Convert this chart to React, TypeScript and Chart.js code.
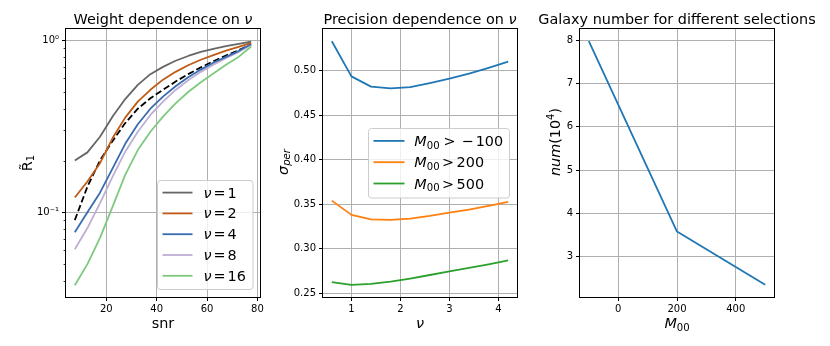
import React, { useEffect, useRef } from 'react';
import { Chart, registerables } from 'chart.js';

Chart.register(...registerables);

// ---------- data ----------
const SNR = [7.5, 12.5, 17.5, 22.5, 27.5, 32.5, 37.5, 42.5, 47.5, 52.5, 57.5, 62.5, 67.5, 72.5, 77.5];
const R_NU1 = [0.2, 0.223, 0.275, 0.36, 0.455, 0.55, 0.635, 0.7, 0.76, 0.81, 0.855, 0.89, 0.925, 0.952, 0.98];
const R_NU2 = [0.122, 0.151, 0.193, 0.27, 0.355, 0.44, 0.515, 0.59, 0.655, 0.715, 0.77, 0.82, 0.87, 0.915, 0.965];
const R_NU4 = [0.0765, 0.1, 0.13, 0.18, 0.25, 0.325, 0.4, 0.47, 0.54, 0.61, 0.675, 0.74, 0.8, 0.865, 0.95];
const R_NU8 = [0.061, 0.081, 0.113, 0.161, 0.225, 0.294, 0.368, 0.44, 0.514, 0.585, 0.655, 0.72, 0.785, 0.855, 0.94];
const R_NU16 = [0.0377, 0.05, 0.071, 0.108, 0.165, 0.23, 0.294, 0.36, 0.43, 0.5, 0.57, 0.64, 0.72, 0.8, 0.92];
const R_REF = [0.09, 0.141, 0.2, 0.26, 0.33, 0.4, 0.46, 0.515, 0.575, 0.635, 0.695, 0.755, 0.815, 0.875, 0.945];

const NU = [0.6, 1.0, 1.4, 1.8, 2.2, 2.6, 3.0, 3.4, 3.8, 4.2];
const SIGMA_M100 = [0.533, 0.4935, 0.482, 0.48, 0.4815, 0.486, 0.491, 0.4965, 0.503, 0.51];
const SIGMA_M200 = [0.354, 0.338, 0.333, 0.3323, 0.3338, 0.3368, 0.3406, 0.344, 0.348, 0.3525];
const SIGMA_M500 = [0.2625, 0.2595, 0.2605, 0.263, 0.2665, 0.2705, 0.2745, 0.2785, 0.2825, 0.287];

const M00 = [-100, 200, 500];
const NUM = [7.98, 3.58, 2.35];

// ---------- ticks ----------
const SNR_TICKS = [20, 40, 60, 80];
const R_TICKS = [0.1, 1];
const R_MINOR = [0.04, 0.05, 0.06, 0.07, 0.08, 0.09, 0.2, 0.3, 0.4, 0.5, 0.6, 0.7, 0.8, 0.9];
const NU_TICKS = [1, 2, 3, 4];
const SIGMA_TICKS = [0.25, 0.3, 0.35, 0.4, 0.45, 0.5];
const M00_TICKS = [0, 200, 400];
const NUM_TICKS = [3, 4, 5, 6, 7, 8];

// ---------- rich text ----------
type Seg = { t?: string; it?: boolean; sub?: boolean; sup?: boolean; gap?: number };
const FAMILY = '"DejaVu Sans"';
const BIG = 14.4;

const segFont = (s: Seg, size: number) =>
  `${s.it ? 'italic ' : ''}${s.sub || s.sup ? size * 0.7 : size}px ${FAMILY}`;

function richWidth(ctx: CanvasRenderingContext2D, segs: Seg[], size: number) {
  let w = 0;
  for (const s of segs) {
    if (s.gap !== undefined) { w += s.gap; continue; }
    ctx.font = segFont(s, size);
    w += ctx.measureText(s.t || '').width;
  }
  return w;
}

function drawRich(ctx: CanvasRenderingContext2D, segs: Seg[], x: number, y: number, size: number, align: 'left' | 'center') {
  const w = richWidth(ctx, segs, size);
  let cx = align === 'center' ? x - w / 2 : x;
  ctx.textAlign = 'left';
  ctx.textBaseline = 'alphabetic';
  for (const s of segs) {
    if (s.gap !== undefined) { cx += s.gap; continue; }
    ctx.font = segFont(s, size);
    const dy = s.sub ? size * 0.2 : s.sup ? -size * 0.4 : 0;
    ctx.fillText(s.t || '', cx, y + dy);
    cx += ctx.measureText(s.t || '').width;
  }
}

const nuLabel = (n: string): Seg[] => [{ t: 'ν', it: true }, { gap: 2 }, { t: '=' }, { gap: 2 }, { t: n }];
const mLabel = (g: number, rest: Seg[]): Seg[] => [{ t: 'M', it: true }, { t: '00', sub: true }, { gap: g }, { t: '>' }, ...rest];

const RICH: Record<string, Seg[]> = {
  'ν = 1': nuLabel('1'),
  'ν = 2': nuLabel('2'),
  'ν = 4': nuLabel('4'),
  'ν = 8': nuLabel('8'),
  'ν = 16': nuLabel('16'),
  'M₀₀ > −100': mLabel(4, [{ gap: 6 }, { t: '−' }, { gap: 2 }, { t: '100' }]),
  'M₀₀ > 200': mLabel(2.5, [{ gap: 2.5 }, { t: '200' }]),
  'M₀₀ > 500': mLabel(2.5, [{ gap: 2.5 }, { t: '500' }]),
};

// ---------- plugin: spines, minor ticks, legend, titles ----------
const decorPlugin = {
  id: 'decor',
  afterDatasetsDraw(chart: any, _a: any, opts: any) {
    const ctx: CanvasRenderingContext2D = chart.ctx;
    const ca = chart.chartArea;
    ctx.save();
    if (opts.minorY) {
      const sc = chart.scales.y;
      ctx.strokeStyle = '#000';
      ctx.lineWidth = 0.8;
      for (const v of opts.minorY) {
        if (v < sc.min || v > sc.max) continue;
        const py = Math.round(sc.getPixelForValue(v)) + 0.5;
        ctx.beginPath();
        ctx.moveTo(ca.left - 2.4, py);
        ctx.lineTo(ca.left, py);
        ctx.stroke();
      }
    }
    ctx.strokeStyle = '#000';
    ctx.lineWidth = 1;
    const l = Math.round(ca.left) - 0.5, t = Math.round(ca.top) - 0.5;
    const r = Math.round(ca.right) + 0.5, b = Math.round(ca.bottom) + 0.5;
    ctx.strokeRect(l, t, r - l, b - t);

    const lg = opts.legend;
    if (lg) {
      const rad = 3;
      ctx.beginPath();
      ctx.moveTo(lg.x + rad, lg.y);
      ctx.arcTo(lg.x + lg.w, lg.y, lg.x + lg.w, lg.y + lg.h, rad);
      ctx.arcTo(lg.x + lg.w, lg.y + lg.h, lg.x, lg.y + lg.h, rad);
      ctx.arcTo(lg.x, lg.y + lg.h, lg.x, lg.y, rad);
      ctx.arcTo(lg.x, lg.y, lg.x + lg.w, lg.y, rad);
      ctx.closePath();
      ctx.fillStyle = 'rgba(255,255,255,0.8)';
      ctx.fill();
      ctx.strokeStyle = '#cccccc';
      ctx.lineWidth = 1;
      ctx.stroke();
      let row = 0;
      for (const ds of chart.data.datasets) {
        const segs = RICH[ds.label];
        if (!segs) continue;
        const y = lg.rowY + row * lg.rowGap;
        ctx.strokeStyle = ds.borderColor;
        ctx.lineWidth = ds.borderWidth;
        ctx.setLineDash(ds.borderDash || []);
        ctx.beginPath();
        ctx.moveTo(lg.hx0, y);
        ctx.lineTo(lg.hx1, y);
        ctx.stroke();
        ctx.setLineDash([]);
        ctx.fillStyle = '#000';
        drawRich(ctx, segs, lg.textX, y + 5, BIG, 'left');
        row++;
      }
    }
    ctx.restore();
  },
  afterDraw(chart: any, _a: any, opts: any) {
    const ctx: CanvasRenderingContext2D = chart.ctx;
    const ca = chart.chartArea;
    const cx = (ca.left + ca.right) / 2;
    ctx.save();
    ctx.fillStyle = '#000';
    drawRich(ctx, opts.title, cx, ca.top - 5.5, BIG, 'center');
    drawRich(ctx, opts.xLabel, cx, ca.bottom + 31, BIG, 'center');
    ctx.translate(ca.left - opts.yLabelDX, opts.yLabelY);
    ctx.rotate(-Math.PI / 2);
    drawRich(ctx, opts.yLabel, 0, 0, BIG, 'center');
    ctx.restore();
  },
};

// ---------- helpers ----------
function axis(kind: 'x' | 'y', type: string, min: number, max: number, ticks: number[], fmt: (v: number) => string) {
  return {
    type,
    min,
    max,
    bounds: 'data',
    afterBuildTicks: (sc: any) => { sc.ticks = ticks.map((v) => ({ value: v })); },
    afterFit: (sc: any) => { if (kind === 'x') sc.height = 30; else sc.width = 40; },
    grid: { color: '#b0b0b0', lineWidth: 1, tickColor: '#000', tickLength: 4, tickWidth: 1, drawTicks: true },
    border: { display: false },
    ticks: {
      autoSkip: false,
      maxRotation: 0,
      minRotation: 0,
      padding: kind === 'x' ? 2 : 3,
      color: '#000',
      font: { family: 'DejaVu Sans', size: 10 },
      callback: (v: any) => fmt(Number(v)),
    },
  };
}

const series = (label: string, xs: number[], ys: number[], color: string, dash?: number[]) => ({
  label,
  data: xs.map((x, i) => ({ x, y: ys[i] })),
  borderColor: color,
  backgroundColor: color,
  borderWidth: 1.8,
  borderDash: dash,
  borderJoinStyle: 'round',
  pointRadius: 0,
  fill: false,
  tension: 0,
});

function makeConfig(left: number, right: number, datasets: any[], scales: any, decor: any) {
  return {
    type: 'line',
    data: { datasets },
    plugins: [decorPlugin],
    options: {
      animation: false,
      responsive: false,
      devicePixelRatio: 1,
      events: [],
      layout: { padding: { left: left - 40, right: 830 - right, top: 29, bottom: 346 - 297 - 30 } },
      scales,
      plugins: { legend: { display: false }, tooltip: { enabled: false }, title: { display: false }, decor },
    },
  };
}

const fmtLog = (v: number) => (v >= 1 ? '10⁰' : '10⁻¹');

const leftConfig = () =>
  makeConfig(
    66,
    260,
    [
      series('ν = 1', SNR, R_NU1, '#666666'),
      series('ν = 2', SNR, R_NU2, '#bf5b17'),
      series('ν = 4', SNR, R_NU4, '#386cb0'),
      series('ν = 8', SNR, R_NU8, '#beaed4'),
      series('ν = 16', SNR, R_NU16, '#7fc97f'),
      series('reference', SNR, R_REF, '#000000', [6.6, 2.9]),
    ],
    {
      x: axis('x', 'linear', 4, 81, SNR_TICKS, (v) => String(v)),
      y: axis('y', 'logarithmic', 0.0322, 1.162, R_TICKS, fmtLog),
    },
    {
      title: [{ t: 'Weight dependence on ' }, { t: 'ν', it: true }],
      xLabel: [{ t: 'snr' }],
      yLabel: [{ t: 'R̃' }, { t: '1', sub: true }],
      yLabelDX: 34.5,
      yLabelY: 163,
      minorY: R_MINOR,
      legend: { x: 157.5, y: 180.5, w: 95.5, h: 109, rowY: 192.6, rowGap: 20.8, hx0: 162.5, hx1: 192.5, textX: 203.5 },
    }
  );

const middleConfig = () =>
  makeConfig(
    323,
    517,
    [
      series('M₀₀ > −100', NU, SIGMA_M100, '#1f77b4'),
      series('M₀₀ > 200', NU, SIGMA_M200, '#ff7f0e'),
      series('M₀₀ > 500', NU, SIGMA_M500, '#2ca02c'),
    ],
    {
      x: axis('x', 'linear', 0.42, 4.38, NU_TICKS, (v) => String(v)),
      y: axis('y', 'linear', 0.2458, 0.5467, SIGMA_TICKS, (v) => v.toFixed(2)),
    },
    {
      title: [{ t: 'Precision dependence on ' }, { t: 'ν', it: true }],
      xLabel: [{ t: 'ν', it: true }],
      yLabel: [{ t: 'σ', it: true }, { t: 'per', it: true, sub: true }],
      yLabelDX: 35.5,
      yLabelY: 162,
      legend: { x: 368.5, y: 128.5, w: 141, h: 69.5, rowY: 140.9, rowGap: 21.3, hx0: 373.5, hx1: 404.5, textX: 414.3 },
    }
  );

const rightConfig = () =>
  makeConfig(
    580,
    774,
    [series('num', M00, NUM, '#1f77b4')],
    {
      x: axis('x', 'linear', -130, 530, M00_TICKS, (v) => String(v)),
      y: axis('y', 'linear', 2.0685, 8.2615, NUM_TICKS, (v) => String(v)),
    },
    {
      title: [{ t: 'Galaxy number for different selections' }],
      xLabel: [{ t: 'M', it: true }, { t: '00', sub: true }],
      yLabel: [{ t: 'num', it: true }, { t: '(10' }, { t: '4', sup: true }, { t: ')' }],
      yLabelDX: 20,
      yLabelY: 142,
    }
  );

function ChartCanvas({ make }: { make: () => any }) {
  const ref = useRef<HTMLCanvasElement>(null);
  useEffect(() => {
    if (!ref.current) return;
    const chart = new Chart(ref.current, make());
    return () => chart.destroy();
  }, [make]);
  return (
    <canvas
      ref={ref}
      width={830}
      height={346}
      style={{ position: 'absolute', left: 0, top: 0, width: 830, height: 346 }}
    />
  );
}

export default function App() {
  return (
    <div style={{ position: 'fixed', left: 0, top: 0, width: 830, height: 346, background: '#fff', overflow: 'hidden' }}>
      <ChartCanvas make={leftConfig} />
      <ChartCanvas make={middleConfig} />
      <ChartCanvas make={rightConfig} />
    </div>
  );
}
